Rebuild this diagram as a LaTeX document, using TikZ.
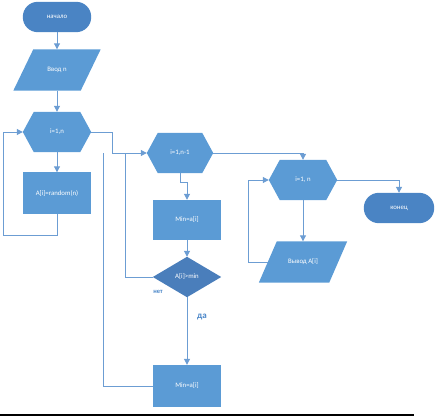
\documentclass[tikz,border=0pt]{standalone}
\usepackage{fontspec}
\setmainfont{Carlito}
\usetikzlibrary{calc,arrows.meta}
\pgfdeclarelayer{background}
\pgfsetlayers{background,main}
\definecolor{boxblue}{HTML}{5B9BD5}
\definecolor{darkblue}{HTML}{4A84C4}
\definecolor{diablue}{HTML}{4A7EBB}
\definecolor{lineblue}{HTML}{6C9DD3}
\definecolor{lblblue}{HTML}{4A86C8}
\begin{document}
\begin{tikzpicture}[x=1pt,y=-1pt,
  lbl/.style={inner sep=0pt, text=white, font=\fontsize{6.8}{7}\selectfont},
  shp/.style={lbl, minimum width=#1},
  conn/.style={draw=lineblue, line width=1pt, -{Triangle[length=6pt,width=6pt]}},
  plain/.style={draw=lineblue, line width=1pt}
]
\useasboundingbox (0,0) rectangle (438,417);
% nodes (invisible frames; shapes drawn on background)
\node[shp=68pt, minimum height=30pt] (start) at (57,17) {начало};
\node[shp=67pt, minimum height=41pt] (inp) at (57,70) {Ввод n};
\node[shp=68pt, minimum height=40pt] (h1) at (57,132) {i=1,n};
\node[shp=68pt, minimum height=41pt] (r1) at (57,193) {A[i]=random(n)};
\node[shp=66pt, minimum height=40pt] (h2) at (180,153) {i=1,n-1};
\node[shp=68pt, minimum height=40pt] (r2) at (187,220) {Min=a[i]};
\node[shp=68pt, minimum height=40pt] (d) at (187,277) {A[i]>min};
\node[shp=68pt, minimum height=42pt] (r3) at (187,386) {Min=a[i]};
\node[shp=68pt, minimum height=40pt] (h3) at (303,180) {i=1, n};
\node[shp=70pt, minimum height=41pt] (out) at (303,262) {Вывод A[i]};
\node[shp=70pt, minimum height=30pt] (end) at (399,208) {конец};
\node[inner sep=0pt, text=lblblue, font=\fontsize{6.5}{7}\selectfont\bfseries] (no) at (158,292) {нет};
\node[inner sep=0pt, text=lblblue, font=\fontsize{9}{10}\selectfont\bfseries] (yes) at (202,317) {да};

\begin{pgfonlayer}{background}
% terminals
\fill[darkblue, rounded corners=15pt] (start.north west) rectangle (start.south east);
\fill[darkblue, rounded corners=15pt] (end.north west) rectangle (end.south east);
% parallelograms
\fill[boxblue] ($(inp.north west)+(10,0)$) -- ($(inp.north east)+(10,0)$) -- ($(inp.south east)+(-10,0)$) -- ($(inp.south west)+(-10,0)$) -- cycle;
\fill[boxblue] ($(out.north west)+(9,0)$) -- ($(out.north east)+(9,0)$) -- ($(out.south east)+(-9,0)$) -- ($(out.south west)+(-9,0)$) -- cycle;
% hexagons
\foreach \h in {h1,h2,h3}{
  \fill[boxblue] (\h.west) -- ($(\h.north west)+(11,0)$) -- ($(\h.north east)+(-11,0)$) -- (\h.east) -- ($(\h.south east)+(-11,0)$) -- ($(\h.south west)+(11,0)$) -- cycle;
}
% rectangles
\foreach \r in {r1,r2,r3}{
  \fill[boxblue] (\r.north west) rectangle (\r.south east);
}
% diamond
\fill[diablue] (d.west) -- (d.north) -- (d.east) -- (d.south) -- cycle;
\end{pgfonlayer}

% junction coordinates
\coordinate (l1) at (3,235);
\coordinate (j1) at (112,153);
\coordinate (j2) at (125,153);
\coordinate (j3) at (103,153);
\coordinate (k) at (187,182);
\coordinate (l3) at (248,262);
\coordinate (ruleA) at (0,415);
\coordinate (ruleB) at (414,415);

% connectors
\draw[conn] (start.south) -- (inp.north);
\draw[conn] (inp.south) -- (h1.north);
\draw[conn] (h1.south) -- (r1.north);
\draw[conn] (r1.south) |- (l1) |- (h1.west);
\draw[conn] (h1.east) -| (j1) -- (h2.west);
\draw[conn] (h2.south) |- (k) -- (r2.north);
\draw[conn] (r2.south) -- (d.north);
\draw[plain] (d.west) -| (j2);
\draw[conn] (d.south) -- (r3.north);
\draw[plain] (r3.west) -| (j3);
\draw[conn] (h2.east) -| (h3.north);
\draw[conn] (h3.east) -| (end.north);
\draw[conn] (h3.south) -- (out.north);
\draw[conn] (out.west) -- (l3) |- (h3.west);
\draw[line width=1.1pt] (ruleA) -- (ruleB);
\end{tikzpicture}
\end{document}
